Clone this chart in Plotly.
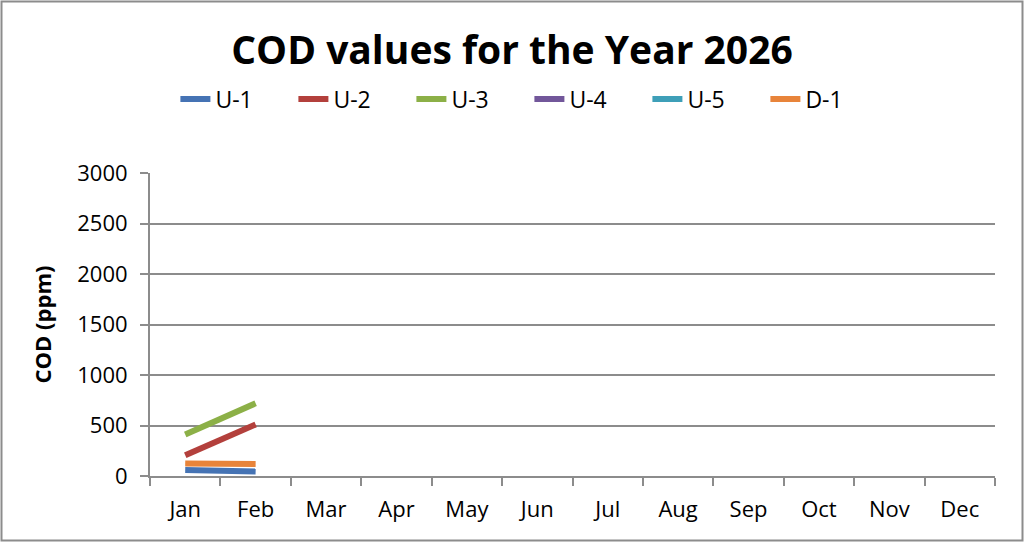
import plotly.graph_objects as go

months = ["Jan", "Feb", "Mar", "Apr", "May", "Jun", "Jul", "Aug", "Sep", "Oct", "Nov", "Dec"]
u1 = [60, 45] + [None] * 10
u2 = [205, 510] + [None] * 10
u3 = [410, 720] + [None] * 10
u4 = [None] * 12
u5 = [None] * 12
d1 = [125, 120] + [None] * 10

series = [
    ("U-1", u1, "#4573B4"),
    ("U-2", u2, "#B3403C"),
    ("U-3", u3, "#8CB047"),
    ("U-4", u4, "#72579A"),
    ("U-5", u5, "#3E9FB8"),
    ("D-1", d1, "#E8843A"),
]

fig = go.Figure()
for name, vals, color in series:
    fig.add_trace(go.Scatter(
        x=months, y=vals, name=name, mode="lines",
        line=dict(color=color, width=6),
        connectgaps=False,
    ))

W, H = 1024, 542
ml, mr, mt, mb = 150, 29, 173, 66
pw, ph = W - ml - mr, H - mt - mb
grey = "#8C8C8C"

fig.update_layout(
    width=W, height=H,
    margin=dict(l=ml, r=mr, t=mt, b=mb),
    paper_bgcolor="white", plot_bgcolor="white",
    font=dict(family="Open Sans, Liberation Sans, sans-serif", color="black", size=22),
    title=dict(text="<b>COD values for the Year 2026</b>", x=(512 - ml) / pw, xanchor="center",
               xref="paper", y=1 - 50 / H, yanchor="middle", yref="container",
               font=dict(size=39, color="black")),
    legend=dict(orientation="h", x=0.449, xanchor="center", y=1 - 99 / H, yref="container",
                yanchor="middle", font=dict(size=23), entrywidth=73, entrywidthmode="pixels",
                tracegroupgap=0, bgcolor="rgba(0,0,0,0)"),
    showlegend=True,
    xaxis=dict(type="category", categoryorder="array", categoryarray=months,
               range=[-0.5, 11.5], tickson="boundaries", ticks="outside", ticklen=8,
               tickcolor=grey, tickwidth=2, showline=True, linecolor=grey, linewidth=2,
               showgrid=False, tickfont=dict(size=22), zeroline=False, ticklabelstandoff=13),
    yaxis=dict(range=[0, 3000], dtick=500, showgrid=True, gridcolor=grey, gridwidth=2,
               showline=True, linecolor=grey, linewidth=2, ticks="outside", ticklen=8,
               tickcolor=grey, tickwidth=2, tickfont=dict(size=22), zeroline=False,
               ticklabelstandoff=8,
               title=dict(text="<b>COD (ppm)</b>", font=dict(size=22), standoff=20)),
)

# outer chart border
fig.add_shape(type="rect", xref="paper", yref="paper",
              x0=(-ml + 1.5) / pw, x1=(pw + mr - 1.5) / pw,
              y0=(-mb + 1.5) / ph, y1=(ph + mt - 1.5) / ph,
              line=dict(color=grey, width=2), fillcolor="rgba(0,0,0,0)", layer="below")

fig.write_html("out.html", config={"displayModeBar": False},
               post_script="document.body.style.margin='0';document.body.style.overflow='hidden';")
